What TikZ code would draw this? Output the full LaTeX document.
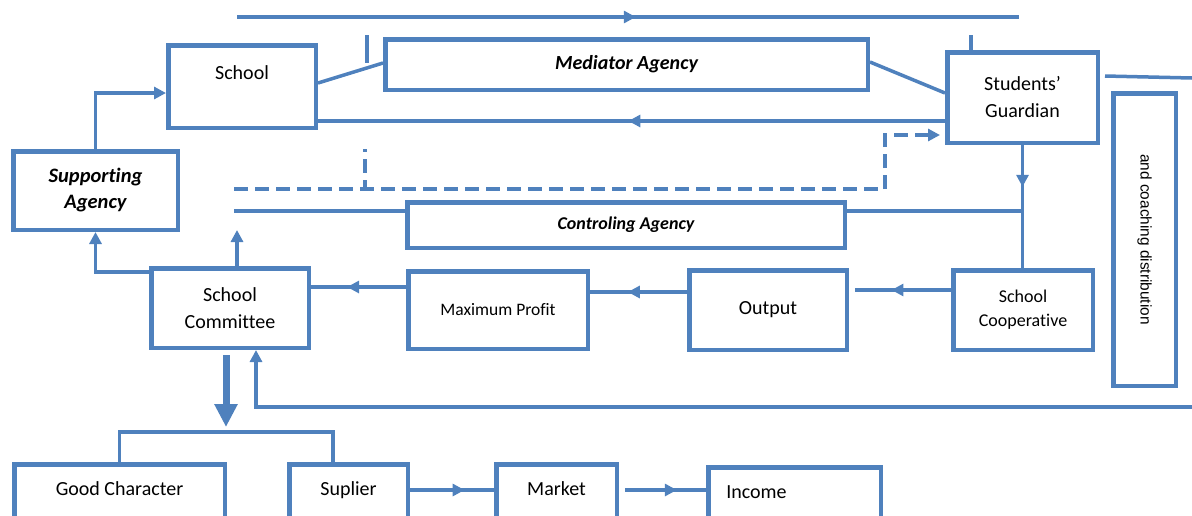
\documentclass[tikz,border=0pt]{standalone}
\usepackage{fontspec}
\setmainfont{Carlito}[Ligatures=CommonOff]
\newfontfamily\arialfont{Liberation Sans}
\usetikzlibrary{arrows.meta, decorations.markings}
\definecolor{accentblue}{HTML}{4F81BD}

\begin{document}
\begin{tikzpicture}[x=1pt, y=-1pt,
    box/.style={draw=accentblue, line width=4.5pt, inner sep=0pt, align=center,
        font=\fontsize{20}{27}\selectfont},
    agency/.style={font=\fontsize{20}{27}\selectfont\bfseries\itshape},
    toptext/.style={text height=14pt, text depth=28pt},
    conn/.style={draw=accentblue, line width=3.5pt},
    dashline/.style={dash pattern=on 14pt off 7pt},
    endtip/.style={-{Triangle[length=12pt,width=12pt]}},
    midarrow/.style={postaction={decorate}, decoration={markings,
        mark=at position #1 with {\arrow{Triangle[length=12pt,width=12pt]}}}}]
    \useasboundingbox (0,0) rectangle (1192,515);
    \clip (0,0) rectangle (1192,515);

    % Draw the boxes
    \node[box, toptext, minimum width=147.5pt, minimum height=82.5pt] (school) at (242,86.5) {School};
    \node[box, agency, minimum width=482.5pt, minimum height=50.5pt] (mediator) at (626.5,64.5) {Mediator Agency};
    \node[box, minimum width=150.5pt, minimum height=90.5pt] (guardian) at (1022.5,97.5) {Students’\\Guardian};
    \node[box, rotate=-90, font=\arialfont\fontsize{15.4}{18}\selectfont,
        minimum width=292.5pt, minimum height=62.5pt] (coaching) at (1144.5,239.5) {and coaching distribution};
    \node[box, agency, font=\fontsize{20.5}{26}\selectfont\bfseries\itshape,
        minimum width=164.5pt, minimum height=78.5pt] (supporting) at (95.5,190.5) {Supporting\\Agency};
    \node[box, font=\fontsize{18}{22}\selectfont\bfseries\itshape,
        minimum width=437.5pt, minimum height=45.5pt] (controling) at (626,225) {Controling Agency};
    \node[box, minimum width=157.5pt, minimum height=79.5pt] (committee) at (230,308) {School\\Committee};
    \node[box, font=\fontsize{17.5}{21}\selectfont,
        minimum width=179.5pt, minimum height=77.5pt] (profit) at (498,310) {Maximum Profit};
    \node[box, minimum width=157.5pt, minimum height=79.5pt] (output) at (768,310) {Output};
    \node[box, font=\fontsize{18}{24}\selectfont,
        minimum width=139.5pt, minimum height=79.5pt] (cooperative) at (1023,310) {School\\Cooperative};
    \node[box, toptext, minimum width=210.5pt, minimum height=76.5pt] (goodchar) at (119.5,502.5) {Good Character};
    \node[box, toptext, minimum width=118.5pt, minimum height=76.5pt] (suplier) at (348.5,502.5) {Suplier};
    \node[box, toptext, minimum width=120.5pt, minimum height=76.5pt] (market) at (556.5,502.5) {Market};
    \node[box, toptext, align=left, text width=136.5pt, inner xsep=18pt,
        minimum height=75.5pt] (income) at (794.5,505) {Income};

    % Free ends of the lines
    \coordinate (topL) at (237,17);
    \coordinate (topR) at (1019,17);
    \coordinate (tickA) at (367,35);
    \coordinate (tickB) at (971,35);
    \coordinate (dashL) at (234,189);
    \coordinate (dashC) at (885,189);
    \coordinate (dashV) at (365,149);
    \coordinate (ctrlL) at (234,211);
    \coordinate (upEnd) at (237,230);
    \coordinate (split) at (226,427);
    \coordinate (fbR) at (1192,407);
    \coordinate (guardR) at (1192,78);

    % Top lines
    \draw[conn, midarrow=0.51] (topL) -- (topR);
    \draw[conn] (tickA) -- ++(0,28);
    \draw[conn] (tickB) -- (tickB |- guardian.north);
    \draw[conn] ([yshift=3.5pt]school.east) -- ([yshift=1.5pt]mediator.west);
    \draw[conn] ([yshift=2.5pt]mediator.east) -- ([yshift=4.5pt]guardian.west);
    \coordinate (backR) at ([yshift=-23.5pt]guardian.west);
    \draw[conn, midarrow=0.505] (backR) -- (backR -| school.east);
    \draw[conn] ([xshift=5pt, yshift=21.5pt]guardian.east) -- (guardR);

    % Dashed lines
    \coordinate (dashR) at ([yshift=-37.5pt]guardian.west);
    \draw[conn, dashline, endtip, shorten >=5pt] (dashL) -- (dashC) |- (dashR);
    \draw[conn, dashline, dash phase=11pt] (dashV) -- (dashV |- dashL);

    % Controling line and guardian down
    \draw[conn] (ctrlL) -- (ctrlL -| controling.west);
    \draw[conn] (ctrlL -| controling.east) -- (ctrlL -| guardian.south);
    \draw[conn, midarrow=0.34] (guardian.south) -- (guardian.south |- cooperative.north);

    % Left side
    \draw[conn, endtip] (upEnd |- committee.north) -- (upEnd);
    \draw[conn, endtip] ([yshift=-6pt]committee.north west) -| (supporting.south);
    \draw[conn, endtip] (supporting.north) |- ([yshift=-6.5pt]school.west);

    % Middle row
    \coordinate (rowA) at ([yshift=23pt]profit.west);
    \draw[conn, midarrow=0.62] (rowA) -- (rowA -| committee.east);
    \coordinate (rowB) at ([yshift=18pt]output.west);
    \draw[conn, midarrow=0.61] (rowB) -- (rowB -| profit.east);
    \coordinate (rowC) at ([yshift=20pt]cooperative.west);
    \coordinate (outE) at ([xshift=6pt]output.east);
    \draw[conn, midarrow=0.62] (rowC) -- (rowC -| outE);

    % Down to the bottom row
    \coordinate (splitTop) at ([yshift=-5pt]committee.south);
    \draw[accentblue, line width=7pt, -{Triangle[length=23pt,width=22pt]}] (split |- splitTop) -- (split);
    \draw[conn] (goodchar.north) -- ++(0,-30) -| ([xshift=-15.5pt]suplier.north);
    \draw[conn, endtip] (fbR) -| ([xshift=26pt]committee.south);

    % Bottom row
    \coordinate (rowD) at ([yshift=12.5pt]suplier.east);
    \draw[conn, midarrow=0.65] (rowD) -- (rowD -| market.west);
    \coordinate (mktE) at ([xshift=6pt]market.east);
    \draw[conn, midarrow=0.64] (rowD -| mktE) -- (rowD -| income.west);
\end{tikzpicture}
\end{document}
